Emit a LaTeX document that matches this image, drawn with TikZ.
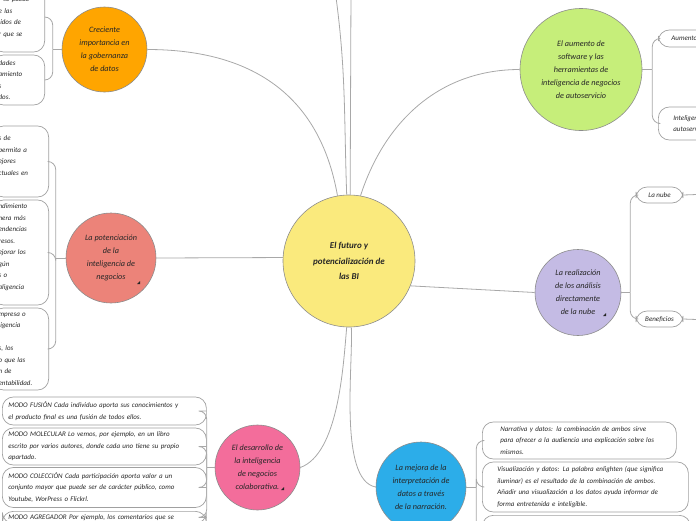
\documentclass[tikz,border=0pt]{standalone}
\usepackage{fontspec}
\setmainfont{Carlito}
\usepackage{tikz}
\definecolor{rootyellow}{HTML}{FAEA7D}
\definecolor{govorange}{HTML}{FFA500}
\definecolor{selfgreen}{HTML}{C6EE7A}
\definecolor{boostsalmon}{HTML}{EC8379}
\definecolor{cloudlilac}{HTML}{C4BBE4}
\definecolor{collabpink}{HTML}{F36D9B}
\definecolor{storyblue}{HTML}{2CADE9}
\definecolor{ringgray}{HTML}{8C8C8C}
\definecolor{boxgray}{HTML}{A0A0A0}
\definecolor{linkgray}{HTML}{A8A8A8}
\definecolor{inkgray}{HTML}{262626}
\newcommand{\leaffont}{\itshape\fontsize{7}{11.5}\selectfont}
\newcommand{\topicfont}{\itshape\fontsize{8.2}{13}\selectfont}
\newcommand{\rootfont}{\bfseries\itshape\fontsize{9}{15.5}\selectfont}

\begin{document}
\begin{tikzpicture}[x=1pt, y=-1pt,
    topic/.style={circle, draw=ringgray, line width=0.6pt, inner sep=0pt, align=center, text=inkgray, font=\topicfont},
    leaf/.style={draw=boxgray, line width=0.7pt, rounded corners=11pt, align=left, text=inkgray, font=\leaffont, inner xsep=6pt, inner ysep=3pt},
    link/.style={draw=linkgray, line width=0.8pt},
    bracket/.style={link, rounded corners=8pt},
    marker/.style={fill=inkgray},
]
\useasboundingbox (0,0) rectangle (696,520);
\clip (0,0) rectangle (696,520);

% Centre
\node[topic, fill=rootyellow, minimum size=132pt, font=\rootfont] (root) at (349,261) {El futuro y\\potencialización de\\las BI};

% Main topics
\node[topic, fill=govorange, minimum size=85pt] (gov) at (104.5,49.5) {Creciente\\importancia en\\la gobernanza\\de datos};
\node[topic, fill=selfgreen, minimum size=122pt] (selfbi) at (581,69.5) {El aumento de\\software y las\\herramientas de\\inteligencia de negocios\\de autoservicio};
\node[topic, fill=boostsalmon, minimum size=90pt] (boost) at (111,258) {La potenciación\\de la\\inteligencia de\\negocios};
\node[topic, fill=cloudlilac, minimum size=86pt] (cloud) at (578,292.5) {La realización\\de los análisis\\directamente\\de la nube};
\node[topic, fill=collabpink, minimum size=85pt] (collab) at (257.5,467.5) {El desarrollo de\\la inteligencia\\de negocios\\colaborativa.};
\node[topic, fill=storyblue, minimum size=90pt] (story) at (421,487) {La mejora de la\\interpretación de\\datos a través\\de la narración.};

% small markers
\fill[marker] (137,284) -- ++(3,0) -- ++(0,-3) -- cycle;
\fill[marker] (281,490) -- ++(3,0) -- ++(0,-3) -- cycle;
\fill[marker] (603,316) -- ++(3,0) -- ++(0,-3) -- cycle;

% Left top: governance
\node[leaf, text width=40pt, minimum height=70pt, anchor=east] (govA) at (45,17) {r se puede\\e las\\lidos de\\r que se};
\node[leaf, text width=40pt, minimum height=50pt, anchor=east] (govB) at (45,80) {dades\\amiento\\s\\dos.};

% Left middle: potenciacion
\node[leaf, text width=44pt, minimum height=71pt, anchor=east] (boostA) at (49,161.5) {s de\\permita a\\ejores\\ctuales en\\\mbox{}};
\node[leaf, text width=44pt, minimum height=105pt, anchor=east] (boostB) at (49,252.5) {ndimiento\\nera más\\endencias\\resos.\\ejorar los\\gún\\s o\\aligencia\\\mbox{}};
\node[leaf, text width=44pt, minimum height=82pt, anchor=east] (boostC) at (49,349) {mpresa o\\ligencia\\\mbox{}\\s, los\\o que las\\n de\\entabilidad.};

% Bottom left: colaborativa
\node[leaf, text width=192pt, minimum height=28pt, anchor=west] (collabA) at (2,411) {MODO FUSIÓN Cada individuo aporta sus conocimientos y\\el producto final es una fusión de todos ellos.};
\node[leaf, text width=192pt, minimum height=37pt, anchor=west] (collabB) at (2,446.5) {MODO MOLECULAR Lo vemos, por ejemplo, en un libro\\escrito por varios autores, donde cada uno tiene su propio\\apartado.};
\node[leaf, text width=192pt, minimum height=40pt, anchor=west] (collabC) at (2,487.5) {MODO COLECCIÓN Cada participación aporta valor a un\\conjunto mayor que puede ser de carácter público, como\\Youtube, WorPress o Flickrl.};
\node[leaf, text width=192pt, anchor=north west] (collabD) at (2,511) {MODO AGREGADOR Por ejemplo, los comentarios que se};

% Bottom right: narracion
\node[leaf, text width=158pt, inner xsep=18pt, minimum height=37pt, anchor=west] (storyA) at (482,440.5) {Narrativa y datos: la combinación de ambos sirve\\para ofrecer a la audiencia una explicación sobre los\\mismos.};
\node[leaf, text width=176pt, inner xsep=15pt, minimum height=50pt, anchor=west] (storyB) at (482,487) {Visualización y datos: La palabra enlighten (que significa\\iluminar) es el resultado de la combinación de ambos.\\Añadir una visualización a los datos ayuda informar de\\forma entretenida e inteligible.};
\node[leaf, minimum width=208pt, minimum height=30pt, anchor=north west] (storyC) at (482,515) {};

% Right top: autoservicio
\node[leaf, text width=60pt, inner xsep=13pt, minimum height=17pt, anchor=west] (selfA) at (658,38.5) {Aumento};
\node[leaf, text width=60pt, inner xsep=15pt, minimum height=33pt, anchor=west] (selfB) at (658,123.5) {Inteligencia\\autoservicio};

% Right middle: nube
\node[leaf, minimum width=47pt, minimum height=16pt] (cloudA) at (659.5,195) {La nube};
\node[leaf, minimum width=47pt, minimum height=16pt] (cloudB) at (659.5,319) {Beneficios};
\coordinate (cloudAnext) at (710,194);
\coordinate (cloudBnext) at (710,320);
\draw[link] (cloudA.east) -- (cloudAnext);
\draw[link] (cloudB.east) -- (cloudBnext);

% Branches from the centre
\coordinate (upA) at (335,-10);
\coordinate (upB) at (351,-10);
\draw[link] (root.92) to[out=92,in=-82] (upA);
\draw[link] (root.89) -- (upB);
\draw[link] (root.100) to[out=100,in=0,looseness=1.1] (gov.east);
\draw[link] (root.80) to[out=72,in=180] (selfbi.west);
\draw[link] (root.177) -- (boost.east);
\draw[link] (root.-22) -- (cloud.west);
\draw[link] (root.-92) to[out=-95,in=20,looseness=0.7] (collab.east);
\draw[link] (root.-88) to[out=-87,in=170,looseness=0.6] (story.west);

% Brackets to the leaves
\coordinate (govJ) at ([xshift=-9pt]gov.west);
\draw[link] (gov.west) -- (govJ);
\foreach \b in {govA,govB} \draw[bracket] (govJ) |- (\b.east);

\coordinate (boostJ) at ([xshift=-10pt]boost.west);
\draw[link] (boost.west) -- (boostJ);
\foreach \b in {boostA,boostB,boostC} \draw[bracket] (boostJ) |- (\b.east);

\coordinate (collabJ) at ([xshift=-8pt]collab.west);
\draw[link] (collab.west) -- (collabJ);
\foreach \b in {collabA,collabB,collabC,collabD} \draw[bracket] (collabJ) |- (\b.east);

\coordinate (storyJ) at ([xshift=10pt]story.east);
\draw[link] (story.east) -- (storyJ);
\foreach \b in {storyA,storyB,storyC} \draw[bracket] (storyJ) |- (\b.west);

\coordinate (selfJ) at ([xshift=10pt]selfbi.east);
\draw[link] (selfbi.east) -- (selfJ);
\foreach \b in {selfA,selfB} \draw[bracket] (selfJ) |- (\b.west);

\coordinate (cloudJ) at ([xshift=9pt]cloud.east);
\draw[link] (cloud.east) -- (cloudJ);
\foreach \b in {cloudA,cloudB} \draw[bracket] (cloudJ) |- (\b.west);

\end{tikzpicture}
\end{document}
